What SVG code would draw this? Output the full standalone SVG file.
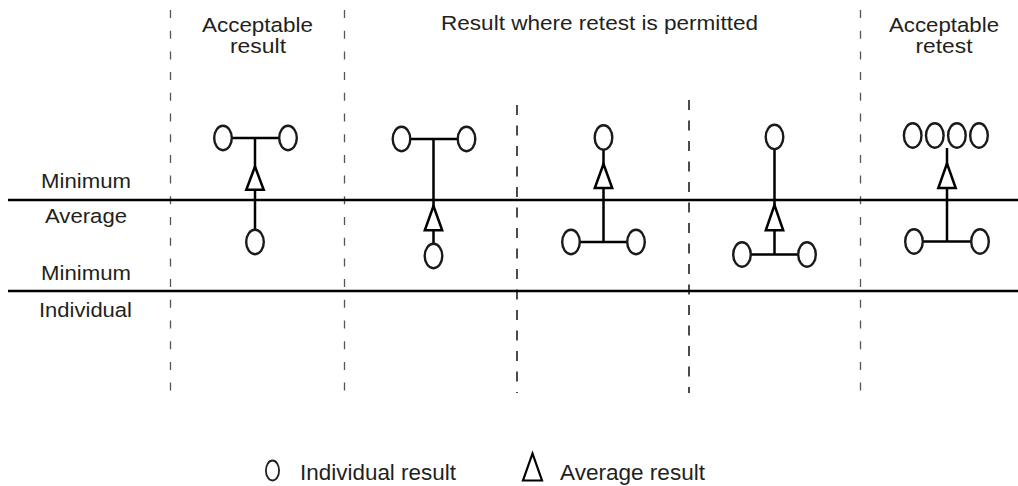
<svg xmlns="http://www.w3.org/2000/svg" width="1018" height="486" viewBox="0 0 1018 486">
  <style>
    .lbl { font-family: "Liberation Sans", Arial, sans-serif; font-size: 20.5px; fill: #231f20; }
    .leg { font-family: "Liberation Sans", Arial, sans-serif; font-size: 22px; fill: #231f20; }
    .dashO { stroke: #555; stroke-width: 1.3; stroke-dasharray: 8 12.7; fill: none; }
    .dashI { stroke: #111; stroke-width: 1.5; stroke-dasharray: 10 10.5; fill: none; }
    .axis { stroke: #000; stroke-width: 2.5; fill: none; }
    .ln { stroke: #000; stroke-width: 2.5; fill: none; }
    .ind { stroke: #1a1a1a; stroke-width: 2.4; fill: #fff; }
    .avg { stroke: #000; stroke-width: 2.5; fill: #fff; stroke-linejoin: miter; }
  </style>
  <rect width="1018" height="486" fill="#fff"/>

  <g id="grid">
    <line class="dashO" x1="170.5" y1="10" x2="170.5" y2="400"/>
    <line class="dashO" x1="344.5" y1="10" x2="344.5" y2="400"/>
    <line class="dashO" x1="860.5" y1="10" x2="860.5" y2="400"/>
    <line class="dashI" x1="517" y1="105" x2="517" y2="393"/>
    <line class="dashI" x1="689" y1="100" x2="689" y2="393"/>
    <line class="axis" x1="8" y1="200" x2="1018" y2="200"/>
    <line class="axis" x1="8" y1="291" x2="1018" y2="291"/>
  </g>

  <g id="labels">
    <text class="lbl" x="202" y="31.5" textLength="111" lengthAdjust="spacingAndGlyphs">Acceptable</text>
    <text class="lbl" x="230" y="53" textLength="56" lengthAdjust="spacingAndGlyphs">result</text>
    <text class="lbl" x="441" y="30" textLength="317" lengthAdjust="spacingAndGlyphs">Result where retest is permitted</text>
    <text class="lbl" x="889" y="31.5" textLength="110" lengthAdjust="spacingAndGlyphs">Acceptable</text>
    <text class="lbl" x="915.5" y="53" textLength="57" lengthAdjust="spacingAndGlyphs">retest</text>
    <text class="lbl" x="41" y="188" textLength="90" lengthAdjust="spacingAndGlyphs">Minimum</text>
    <text class="lbl" x="45" y="223" textLength="82" lengthAdjust="spacingAndGlyphs">Average</text>
    <text class="lbl" x="41" y="280" textLength="90" lengthAdjust="spacingAndGlyphs">Minimum</text>
    <text class="lbl" x="39" y="316.5" textLength="93" lengthAdjust="spacingAndGlyphs">Individual</text>
  </g>

  <g id="connectors">
    <line class="ln" x1="223" y1="138" x2="288" y2="138"/>
    <line class="ln" x1="255" y1="138" x2="255" y2="242"/>
    <line class="ln" x1="401.5" y1="139" x2="466.5" y2="139"/>
    <line class="ln" x1="433.5" y1="139" x2="433.5" y2="256"/>
    <line class="ln" x1="603.5" y1="137.5" x2="603.5" y2="242"/>
    <line class="ln" x1="571" y1="242" x2="636" y2="242"/>
    <line class="ln" x1="774.5" y1="137" x2="774.5" y2="254.5"/>
    <line class="ln" x1="742" y1="254.5" x2="807" y2="254.5"/>
    <line class="ln" x1="947" y1="148" x2="947" y2="241.5"/>
    <line class="ln" x1="914" y1="241.5" x2="980" y2="241.5"/>
  </g>

  <g id="col1">
    <ellipse class="ind" cx="223" cy="138" rx="8.8" ry="12.2"/>
    <ellipse class="ind" cx="288" cy="138" rx="8.8" ry="12.2"/>
    <polygon class="avg" points="255,166.5 246.3,189.8 263.7,189.8"/>
    <ellipse class="ind" cx="255" cy="242" rx="8.8" ry="12.2"/>
  </g>

  <g id="col2">
    <ellipse class="ind" cx="401.5" cy="139" rx="8.8" ry="12.2"/>
    <ellipse class="ind" cx="466.5" cy="139" rx="8.8" ry="12.2"/>
    <polygon class="avg" points="433.5,206 424.8,230.3 442.2,230.3"/>
    <ellipse class="ind" cx="433.5" cy="256" rx="8.8" ry="12.2"/>
  </g>

  <g id="col3">
    <ellipse class="ind" cx="603.5" cy="137.5" rx="8.8" ry="12.2"/>
    <polygon class="avg" points="603.5,164 594.8,188 612.2,188"/>
    <ellipse class="ind" cx="571" cy="242" rx="8.8" ry="12.2"/>
    <ellipse class="ind" cx="636" cy="242" rx="8.8" ry="12.2"/>
  </g>

  <g id="col4">
    <ellipse class="ind" cx="774.5" cy="137" rx="8.8" ry="12.2"/>
    <polygon class="avg" points="774.5,205 765.8,230.3 783.2,230.3"/>
    <ellipse class="ind" cx="742" cy="254.5" rx="8.8" ry="12.2"/>
    <ellipse class="ind" cx="807" cy="254.5" rx="8.8" ry="12.2"/>
  </g>

  <g id="col5">
    <ellipse class="ind" cx="912.7" cy="135.5" rx="8.8" ry="12.2"/>
    <ellipse class="ind" cx="934.8" cy="135.5" rx="8.8" ry="12.2"/>
    <ellipse class="ind" cx="956.9" cy="135.5" rx="8.8" ry="12.2"/>
    <ellipse class="ind" cx="979" cy="135.5" rx="8.8" ry="12.2"/>
    <polygon class="avg" points="947,163.5 938.3,188 955.7,188"/>
    <ellipse class="ind" cx="914" cy="241.5" rx="8.8" ry="12.2"/>
    <ellipse class="ind" cx="980" cy="241.5" rx="8.8" ry="12.2"/>
  </g>

  <g id="legend">
    <ellipse cx="272.5" cy="470.5" rx="6.6" ry="10" fill="#fff" stroke="#231f20" stroke-width="1.8"/>
    <text class="leg" x="300" y="479.5" textLength="156" lengthAdjust="spacingAndGlyphs">Individual result</text>
    <polygon points="532.5,453.5 523,480.5 542,480.5" fill="#fff" stroke="#000" stroke-width="2.2"/>
    <text class="leg" x="560" y="479.5" textLength="145" lengthAdjust="spacingAndGlyphs">Average result</text>
  </g>
</svg>
